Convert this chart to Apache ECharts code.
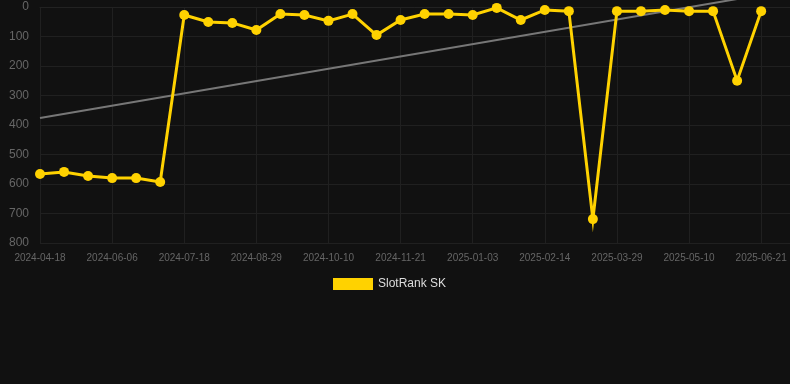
<!DOCTYPE html>
<html><head><meta charset="utf-8">
<script src="https://cdn.jsdelivr.net/npm/echarts@6/dist/echarts.min.js"></script>
<style>html,body{margin:0;padding:0;background:#111111;}#c{width:790px;height:384px;}</style>
</head><body><div id="c"></div>
<script>
const dates = ['2024-04-18','2024-05-02','2024-05-21','2024-06-06','2024-06-20','2024-07-04',
'2024-07-18','2024-08-01','2024-08-15','2024-08-29','2024-09-12','2024-09-26',
'2024-10-10','2024-10-24','2024-11-07','2024-11-21','2024-12-05','2024-12-19',
'2025-01-03','2025-01-17','2025-01-31','2025-02-14','2025-02-28','2025-03-14',
'2025-03-29','2025-04-12','2025-04-26','2025-05-10','2025-05-24','2025-06-07','2025-06-21'];
const rankSK = [566,559,573,580,580,593,27,51,54,78,24,27,47,24,95,44,24,24,27,3,44,10,14,719,14,14,10,14,14,250,14];
const trendEnds = [376,-41];
const seriesName = 'SlotRank SK';
const last = dates.length-1;
const mainData = rankSK.map((v,i)=>[i,v]);
const trendData = [[0,trendEnds[0]],[last,trendEnds[1]]];

const chart = echarts.init(document.getElementById('c'));
chart.setOption({
  backgroundColor:'#111111',
  animation:false,
  grid:{left:40,right:0,top:7,bottom:141},
  legend:{data:[{name:seriesName,icon:'rect'}],top:273,left:328,itemWidth:40,itemHeight:12,itemGap:10,
    textStyle:{color:'#dddddd',fontSize:12,fontFamily:'Arial, Liberation Sans, sans-serif'}},
  xAxis:{type:'value',min:0,max:31.2,interval:3,
    axisLine:{show:true,lineStyle:{color:'#222'}},axisTick:{show:false},
    axisLabel:{color:'#666',fontSize:10,margin:10,showMaxLabel:false,fontFamily:'Arial, Liberation Sans, sans-serif',
      formatter:v=>(Number.isInteger(v)&&dates[v])?dates[v]:''},
    splitLine:{show:true,lineStyle:{color:'#202020'}}},
  yAxis:{type:'value',inverse:true,min:0,max:800,interval:100,
    axisLine:{show:false},axisTick:{show:false},
    axisLabel:{color:'#666',fontSize:12,margin:11,fontFamily:'Arial, Liberation Sans, sans-serif'},
    splitLine:{lineStyle:{color:'#202020'}}},
  series:[
    {name:'trend',type:'line',data:trendData,showSymbol:false,symbol:'none',clip:false,
     lineStyle:{color:'#777',width:2},z:1,silent:true},
    {name:seriesName,type:'line',data:mainData,symbol:'circle',symbolSize:10,showAllSymbol:true,
     itemStyle:{color:'#FFD200'},lineStyle:{color:'#FFD200',width:3,join:'miter'},z:2}
  ]
});
</script></body></html>
